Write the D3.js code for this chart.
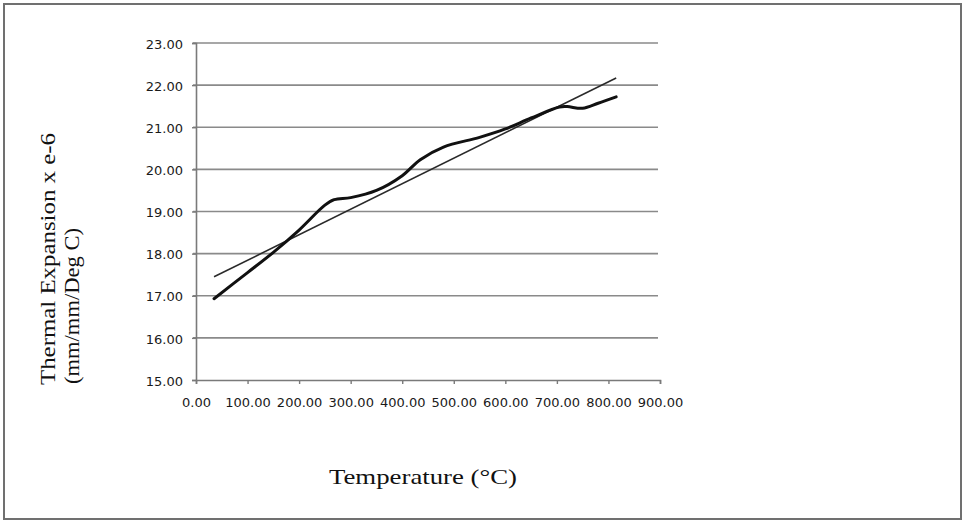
<!DOCTYPE html>
<html>
<head>
<meta charset="utf-8">
<script src="https://cdn.jsdelivr.net/npm/d3@7"></script>
<style>
  html, body { margin: 0; padding: 0; background: #fff; }
  svg { display: block; }
</style>
</head>
<body>
<svg id="chart" width="964" height="524"></svg>
<script>
// Measured thermal expansion (x e-6, mm/mm/Deg C) vs temperature (°C)
const temps = [35, 100, 150, 200, 250, 268, 300, 350, 400, 435, 480, 550, 600, 650, 705, 720, 750, 780, 815];
const expansion = [16.93, 17.55, 18.03, 18.56, 19.15, 19.28, 19.33, 19.50, 19.85, 20.23, 20.53, 20.76, 20.96, 21.22, 21.48, 21.49, 21.45, 21.57, 21.72];
// Linear trendline endpoints
const trendTemps = [35, 815];
const trendValues = [17.45, 22.17];
// Axis ticks
const xTicks = [0, 100, 200, 300, 400, 500, 600, 700, 800, 900];
const yTicks = [15, 16, 17, 18, 19, 20, 21, 22, 23];
const xTitle = "Temperature (°C)";
const yTitle1 = "Thermal Expansion x e-6";
const yTitle2 = "(mm/mm/Deg C)";

const svg = d3.select("#chart");
const W = 964, H = 524;
const plot = { left: 196, right: 660, top: 43, bottom: 380 };

// frame
svg.append("rect").attr("x", 0).attr("y", 0).attr("width", W).attr("height", H).attr("fill", "#fff");
svg.append("rect").attr("x", 4).attr("y", 4).attr("width", 957).attr("height", 515)
  .attr("fill", "none").attr("stroke", "#707070").attr("stroke-width", 2);

const x = d3.scaleLinear().domain([0, 900]).range([plot.left, plot.right]);
const y = d3.scaleLinear().domain([15, 23]).range([plot.bottom, plot.top]);

// gridlines
svg.append("g").selectAll("line").data(yTicks.filter(d => d > 15)).join("line")
  .attr("x1", plot.left - 3).attr("x2", plot.right - 2)
  .attr("y1", d => y(d)).attr("y2", d => y(d))
  .attr("stroke", "#8a8a8a").attr("stroke-width", 1.6);

// y axis
const yAxis = d3.axisLeft(y).tickValues(yTicks).tickSize(4).tickPadding(9).tickFormat(d3.format(".2f"));
const gy = svg.append("g").attr("transform", `translate(${plot.left},0)`).call(yAxis);
gy.select(".domain").attr("stroke", "#7a7a7a").attr("stroke-width", 1.6);
gy.selectAll(".tick line").attr("stroke", "#7a7a7a").attr("stroke-width", 1.4);
gy.selectAll("text").attr("font-family", "DejaVu Sans").attr("font-size", 13).attr("fill", "#1a1a1a")
  .attr("dy", "0.4em");

// x axis
const xAxis = d3.axisBottom(x).tickValues(xTicks).tickSize(4).tickPadding(14).tickFormat(d3.format(".2f"));
const gx = svg.append("g").attr("transform", `translate(0,${plot.bottom})`).call(xAxis);
gx.select(".domain").attr("stroke", "#7a7a7a").attr("stroke-width", 1.6);
gx.selectAll(".tick line").attr("stroke", "#7a7a7a").attr("stroke-width", 1.4);
gx.selectAll("text").attr("font-family", "DejaVu Sans").attr("font-size", 13).attr("fill", "#1a1a1a");

// trendline
const trend = trendTemps.map((t, i) => [t, trendValues[i]]);
svg.append("path").datum(trend)
  .attr("d", d3.line().x(d => x(d[0])).y(d => y(d[1])))
  .attr("fill", "none").attr("stroke", "#2a2a2a").attr("stroke-width", 1.6);

// measured data
const pts = temps.map((t, i) => [t, expansion[i]]);
svg.append("path").datum(pts)
  .attr("d", d3.line().curve(d3.curveCatmullRom.alpha(0.5)).x(d => x(d[0])).y(d => y(d[1])))
  .attr("fill", "none").attr("stroke", "#111").attr("stroke-width", 3)
  .attr("stroke-linejoin", "round").attr("stroke-linecap", "round");

// titles
svg.append("text").attr("x", 329).attr("y", 484)
  .attr("font-family", "Liberation Serif").attr("font-size", 21).attr("fill", "#111")
  .attr("textLength", 188).attr("lengthAdjust", "spacingAndGlyphs")
  .text(xTitle);

svg.append("text").attr("transform", "translate(55,385) rotate(-90)")
  .attr("font-family", "Liberation Serif").attr("font-size", 21).attr("fill", "#111")
  .attr("textLength", 252).attr("lengthAdjust", "spacingAndGlyphs")
  .text(yTitle1);
svg.append("text").attr("transform", "translate(79,384) rotate(-90)")
  .attr("font-family", "Liberation Serif").attr("font-size", 21).attr("fill", "#111")
  .attr("textLength", 156).attr("lengthAdjust", "spacingAndGlyphs")
  .text(yTitle2);
</script>
</body>
</html>
